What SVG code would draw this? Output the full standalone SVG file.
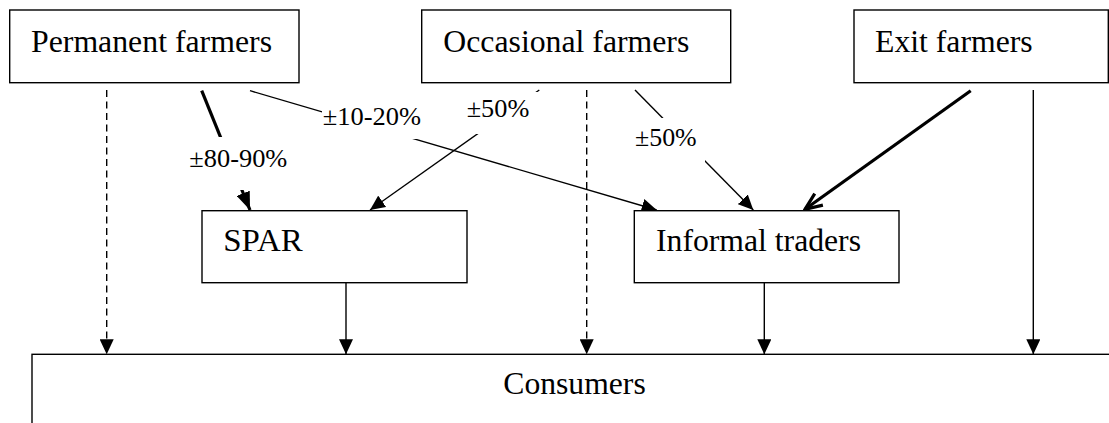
<svg xmlns="http://www.w3.org/2000/svg" width="1109" height="423" viewBox="0 0 1109 423">
  <style>
    .box { fill: #ffffff; stroke: #000000; stroke-width: 1.4; }
    .t { font-family: "Liberation Serif", "DejaVu Serif", serif; font-size: 32px; fill: #000000; }
    .lbl { font-family: "Liberation Serif", "DejaVu Serif", serif; font-size: 26px; fill: #000000; }
    .ln { fill: none; stroke: #000000; stroke-width: 1.4; }
    .dash { stroke-dasharray: 7 4.5; }
    .thick { stroke-width: 3.2; }
    .mask { fill: #ffffff; stroke: none; }
  </style>
  <defs>
    <marker id="arr" viewBox="0 0 15 14" refX="15" refY="7" markerWidth="15" markerHeight="14" markerUnits="userSpaceOnUse" orient="auto">
      <path d="M0,0 L15,7 L0,14 z" fill="#000000"/>
    </marker>
    <marker id="arrBig" viewBox="0 0 18 14" refX="18" refY="7" markerWidth="18" markerHeight="14" markerUnits="userSpaceOnUse" orient="auto">
      <path d="M0,0 L18,7 L0,14 z" fill="#000000"/>
    </marker>
    <marker id="open" viewBox="-2 -2 22 18" refX="18" refY="7" markerWidth="22" markerHeight="18" markerUnits="userSpaceOnUse" orient="auto">
      <path d="M1,0 L18,7 L1,14" fill="none" stroke="#000000" stroke-width="3.2" stroke-linejoin="miter"/>
    </marker>
  </defs>

  <g id="node-consumers">
    <rect class="box" x="32" y="354.3" width="1100" height="120"/>
    <text class="t" x="503.3" y="394.3" textLength="142.4" lengthAdjust="spacingAndGlyphs">Consumers</text>
  </g>

  <g id="connectors">
    <line class="ln dash" x1="106.7" y1="90" x2="106.7" y2="354.3" marker-end="url(#arr)"/>
    <line class="ln dash" x1="586.7" y1="90" x2="586.7" y2="354.3" marker-end="url(#arr)"/>
    <line class="ln" x1="346" y1="282.7" x2="346" y2="354.3" marker-end="url(#arr)"/>
    <line class="ln" x1="764.3" y1="282.7" x2="764.3" y2="354.3" marker-end="url(#arr)"/>
    <line class="ln" x1="1033.3" y1="90" x2="1033.3" y2="354.3" marker-end="url(#arr)"/>
    <line class="ln thick" x1="201.7" y1="90.7" x2="250" y2="210" marker-end="url(#arrBig)"/>
    <line class="ln" x1="250" y1="90.7" x2="656.7" y2="210" marker-end="url(#arr)"/>
    <line class="ln" x1="539.3" y1="90" x2="370" y2="210" marker-end="url(#arr)"/>
    <line class="ln" x1="635" y1="90" x2="753.3" y2="210" marker-end="url(#arr)"/>
    <line class="ln thick" x1="970.7" y1="90.7" x2="805" y2="209.3" marker-end="url(#open)"/>
  </g>

  <g id="labels">
    <rect class="mask" x="185" y="137" width="106" height="53"/>
    <text class="lbl" font-family="Liberation Serif, serif" x="189.3" y="166.7" textLength="98" lengthAdjust="spacingAndGlyphs">±80-90%</text>
    <rect class="mask" x="322" y="95" width="106" height="44"/>
    <text class="lbl" font-family="Liberation Serif, serif" x="322.7" y="125" textLength="98.3" lengthAdjust="spacingAndGlyphs">±10-20%</text>
    <rect class="mask" x="460" y="92" width="80" height="42"/>
    <text class="lbl" font-family="Liberation Serif, serif" x="466.7" y="117.3" textLength="62.6" lengthAdjust="spacingAndGlyphs">±50%</text>
    <rect class="mask" x="630" y="118" width="75" height="44"/>
    <text class="lbl" font-family="Liberation Serif, serif" x="635" y="145.7" textLength="61.7" lengthAdjust="spacingAndGlyphs">±50%</text>
  </g>

  <g id="node-permanent">
    <rect class="box" x="9.7" y="10" width="289.3" height="72.7"/>
    <text class="t" x="31" y="52" textLength="241" lengthAdjust="spacingAndGlyphs">Permanent farmers</text>
  </g>
  <g id="node-occasional">
    <rect class="box" x="421.7" y="10" width="309" height="72.7"/>
    <text class="t" x="443.3" y="52" textLength="246" lengthAdjust="spacingAndGlyphs">Occasional farmers</text>
  </g>
  <g id="node-exit">
    <rect class="box" x="854" y="10" width="254.3" height="72.7"/>
    <text class="t" x="875" y="52" textLength="157.7" lengthAdjust="spacingAndGlyphs">Exit farmers</text>
  </g>
  <g id="node-spar">
    <rect class="box" x="202" y="210.7" width="265" height="72"/>
    <text class="t" x="223.3" y="251" textLength="79.4" lengthAdjust="spacingAndGlyphs">SPAR</text>
  </g>
  <g id="node-informal">
    <rect class="box" x="634.3" y="210.7" width="264.7" height="72"/>
    <text class="t" x="656" y="251" textLength="205" lengthAdjust="spacingAndGlyphs">Informal traders</text>
  </g>
</svg>
